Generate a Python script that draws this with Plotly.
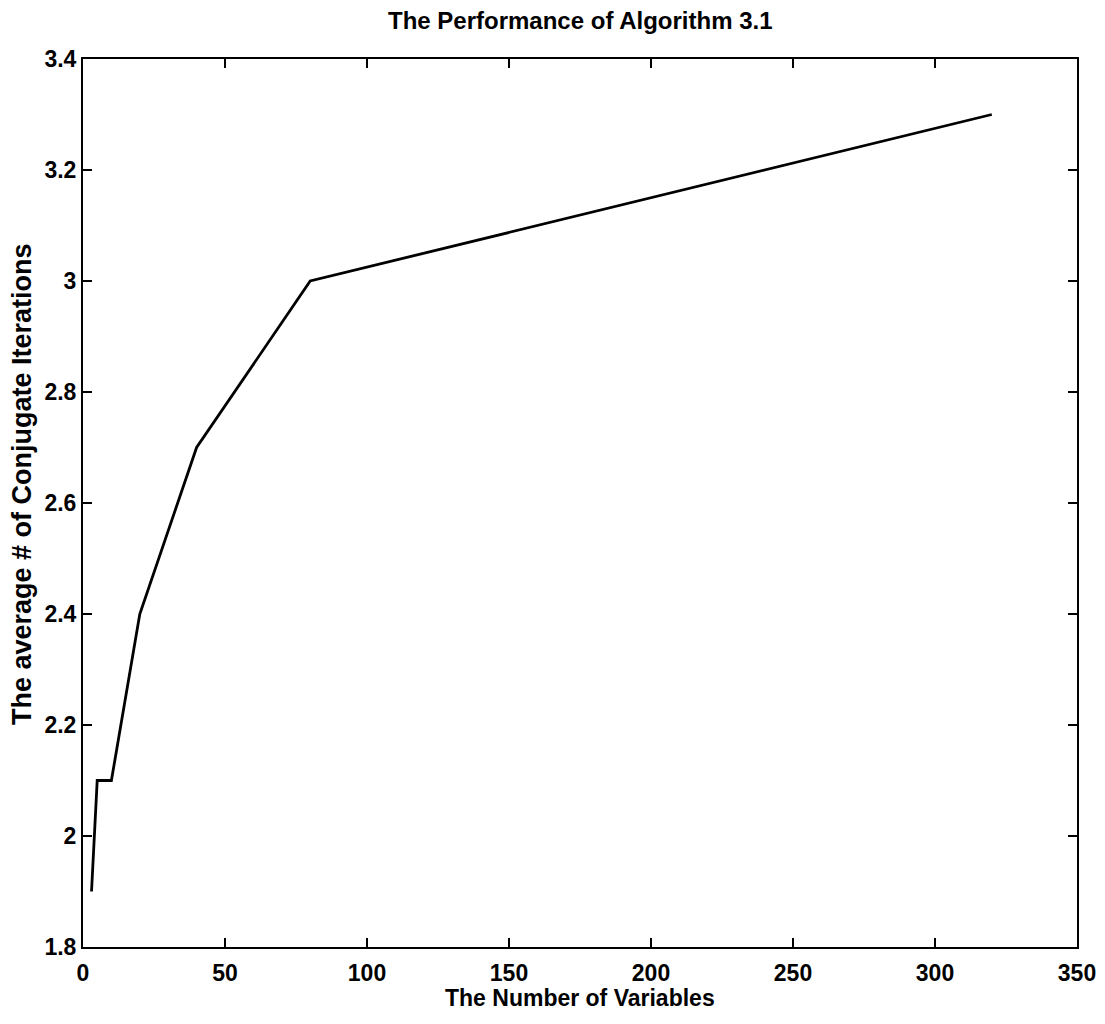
import plotly.graph_objects as go

# Data
num_variables = [3, 5, 10, 20, 40, 80, 320]
avg_iterations = [1.9, 2.1, 2.1, 2.4, 2.7, 3.0, 3.3]

x_ticks = [0, 50, 100, 150, 200, 250, 300, 350]
y_ticks = [1.8, 2.0, 2.2, 2.4, 2.6, 2.8, 3.0, 3.2, 3.4]
y_tick_text = ["1.8", "2", "2.2", "2.4", "2.6", "2.8", "3", "3.2", "3.4"]

FONT = "Liberation Sans, Arial, Helvetica, sans-serif"
TXT = dict(family=FONT, color="black", weight="bold")

fig = go.Figure()
fig.add_trace(go.Scatter(
    x=num_variables, y=avg_iterations, mode="lines",
    line=dict(color="black", width=2.8), showlegend=False,
))

axis_common = dict(
    showline=True, linecolor="black", linewidth=2, mirror="ticks",
    ticks="inside", ticklen=9, tickwidth=2, tickcolor="black",
    showgrid=False, zeroline=False,
    tickfont=dict(size=23, **TXT),
)

fig.update_layout(
    width=1097, height=1016,
    margin=dict(l=75, r=28, t=51, b=77, autoexpand=False),
    paper_bgcolor="white", plot_bgcolor="white",
    xaxis=dict(range=[0, 350], tickvals=x_ticks, ticklabelstandoff=4, **axis_common),
    yaxis=dict(range=[1.8, 3.4], tickvals=y_ticks, ticktext=y_tick_text,
               ticklabelstandoff=0, **axis_common),
    annotations=[
        dict(text="The Performance of Algorithm 3.1", xref="paper", yref="paper",
             x=0.5, y=1, xanchor="center", yanchor="middle", yshift=39,
             showarrow=False, font=dict(size=24, **TXT)),
        dict(text="The Number of Variables", xref="paper", yref="paper",
             x=0.5, y=0, xanchor="center", yanchor="middle", yshift=-51,
             showarrow=False, font=dict(size=23, **TXT)),
        dict(text="The average # of Conjugate Iterations", xref="paper", yref="paper",
             x=0, y=0.5, xanchor="center", yanchor="middle", xshift=-61, yshift=19,
             textangle=-90, showarrow=False, font=dict(size=27, **TXT)),
    ],
)

fig.write_html("out.html")
